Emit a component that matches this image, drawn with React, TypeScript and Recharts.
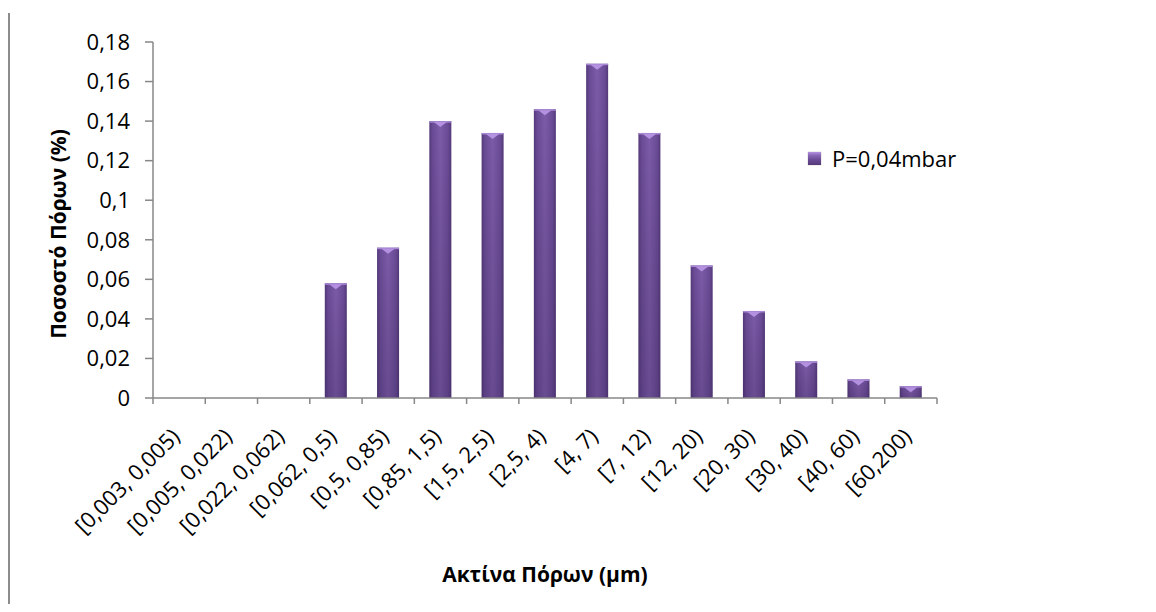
import React from "react";
import { BarChart, Bar, XAxis, YAxis, Legend, Label } from "recharts";

const categories: string[] = [
  "[0,003, 0,005)",
  "[0,005, 0,022)",
  "[0,022, 0,062)",
  "[0,062, 0,5)",
  "[0,5, 0,85)",
  "[0,85, 1,5)",
  "[1,5, 2,5)",
  "[2,5, 4)",
  "[4, 7)",
  "[7, 12)",
  "[12, 20)",
  "[20, 30)",
  "[30, 40)",
  "[40, 60)",
  "[60,200)",
];
const values: number[] = [0, 0, 0, 0.058, 0.076, 0.14, 0.134, 0.146, 0.169, 0.134, 0.067, 0.044, 0.0185, 0.0094, 0.006];
const yTicks: number[] = [0, 0.02, 0.04, 0.06, 0.08, 0.1, 0.12, 0.14, 0.16, 0.18];
const seriesName = "P=0,04mbar";
const xTitle = "Ακτίνα Πόρων (μm)";
const yTitle = "Ποσοστό Πόρων (%)";

const data = categories.map((c, i) => ({ name: c, value: values[i] }));

const FONT = "'Open Sans', 'Noto Sans', sans-serif";
const AXIS = "#878787";

const fmt = (v: number) => String(+v.toFixed(2)).replace(".", ",");

const BarShape = (props: any) => {
  const { x, y, width, height } = props;
  if (!height || height <= 0) return null;
  const tri = Math.min(5, height);
  return (
    <g>
      <rect x={x} y={y} width={width} height={height} fill="url(#barGrad)" />
      <rect x={x} y={y} width={width} height={height} fill="url(#barShade)" />
      <rect x={x} y={y} width={width} height={Math.min(1.5, height)} fill="#a887d4" />
      <polygon
        points={`${x + width * 0.2},${y + 1} ${x + width * 0.8},${y + 1} ${x + width / 2},${y + 1 + tri}`}
        fill="#b591e2"
      />
    </g>
  );
};

const XTick = (props: any) => {
  const { x, y, payload } = props;
  const half = payload && payload.offset ? payload.offset : 26;
  const isLast = payload.value === categories[categories.length - 1];
  return (
    <g>
      <line x1={x - half} x2={x - half} y1={y} y2={y + 6} stroke={AXIS} strokeWidth={1.5} />
      {isLast && <line x1={x + half} x2={x + half} y1={y} y2={y + 6} stroke={AXIS} strokeWidth={1.5} />}
      <text
        x={0}
        y={0}
        transform={`translate(${x + 2},${y + 40}) rotate(-45)`}
        textAnchor="end"
        fill="#000"
        fontSize={22}
        fontFamily={FONT}
      >
        {payload.value}
      </text>
    </g>
  );
};

const LegendContent = () => (
  <div style={{ display: "flex", alignItems: "center", fontFamily: FONT, fontSize: 22, height: 26, lineHeight: "26px", color: "#000" }}>
    <div
      style={{
        width: 13,
        height: 13,
        marginRight: 11,
        background: "linear-gradient(to bottom, #b591e2 0%, #8a68b8 25%, #6a4a95 60%, #55397a 100%)",
        boxShadow: "0 0 1px #999",
      }}
    />
    <span>{seriesName}</span>
  </div>
);

export default function App() {
  return (
    <div style={{ position: "relative", width: 1140, height: 596 }}>
      <div style={{ position: "absolute", left: 0, top: 5, width: 2, height: 592, background: "#8c8c8c" }} />
      <BarChart
        width={1140}
        height={596}
        data={data}
        margin={{ top: 34, right: 211, left: 0, bottom: 0 }}
        style={{ fontFamily: FONT }}
      >
        <defs>
          <linearGradient id="barGrad" x1="0" y1="0" x2="1" y2="0">
            <stop offset="0%" stopColor="#54397a" />
            <stop offset="15%" stopColor="#6a4b96" />
            <stop offset="50%" stopColor="#7c5ba8" />
            <stop offset="85%" stopColor="#6a4b96" />
            <stop offset="100%" stopColor="#54397a" />
          </linearGradient>
          <linearGradient id="barShade" x1="0" y1="0" x2="0" y2="1">
            <stop offset="0%" stopColor="#000" stopOpacity={0} />
            <stop offset="100%" stopColor="#1e0f3a" stopOpacity={0.2} />
          </linearGradient>
        </defs>
        <XAxis
          dataKey="name"
          interval={0}
          height={180}
          tickLine={false}
          tickSize={0}
          tickMargin={0}
          axisLine={{ stroke: AXIS, strokeWidth: 1.5 }}
          tick={<XTick />}
        >
          <Label
            content={(p: any) => {
              const vb = p.viewBox || { x: 144, width: 785 };
              return (
                <text
                  x={vb.x + vb.width / 2}
                  y={566}
                  textAnchor="middle"
                  dominantBaseline="central"
                  fontSize={21}
                  fontWeight="bold"
                  fontFamily={FONT}
                  fill="#000"
                >
                  {xTitle}
                </text>
              );
            }}
          />
        </XAxis>
        <YAxis
          type="number"
          domain={[0, 0.18]}
          ticks={yTicks}
          width={145}
          tickFormatter={fmt}
          tickSize={8}
          tickMargin={15}
          tickLine={{ stroke: AXIS, strokeWidth: 1.5 }}
          axisLine={{ stroke: AXIS, strokeWidth: 1.5 }}
          tick={{ fill: "#000", fontSize: 22, fontFamily: FONT }}
        >
          <Label
            content={() => (
              <text
                x={50}
                y={226}
                transform="rotate(-90, 50, 226)"
                textAnchor="middle"
                dominantBaseline="central"
                fontSize={21}
                fontWeight="bold"
                fontFamily={FONT}
                fill="#000"
              >
                {yTitle}
              </text>
            )}
          />
        </YAxis>
        <Legend
          content={<LegendContent />}
          wrapperStyle={{ position: "absolute", left: 800, top: 137, width: "auto" }}
        />
        <Bar dataKey="value" name={seriesName} barSize={22} shape={<BarShape />} isAnimationActive={false} />
      </BarChart>
    </div>
  );
}
